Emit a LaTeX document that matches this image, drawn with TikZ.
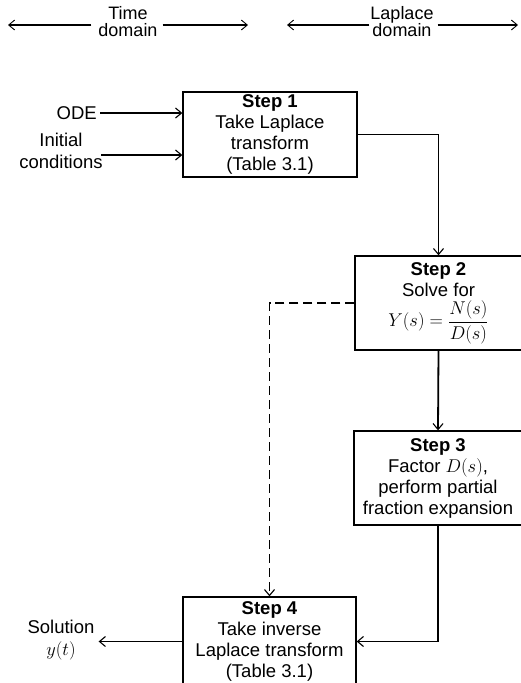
\RequirePackage{fix-cm}
\documentclass[tikz,border=0pt]{standalone}
\usepackage{amsmath}
\usepackage{fontspec}
\setmainfont{Liberation Sans}
\usetikzlibrary{arrows.meta,calc}
\begin{document}
\begin{tikzpicture}[x=1pt,y=-1pt,
  lbl/.style={font=\fontsize{18.5}{22}\selectfont, align=center, inner sep=0pt},
  toplbl/.style={font=\fontsize{18}{17}\selectfont, align=center, inner sep=0pt},
  stepbox/.style={draw, line width=1.3pt, font=\fontsize{18.5}{21}\selectfont, align=center, inner sep=0pt},
  conn/.style={line width=1.8pt, -{Straight Barb[length=6pt,width=10pt,line width=1.1pt]}},
  dom/.style={line width=1.1pt, -{Straight Barb[length=6pt,width=10pt,line width=0.9pt]}},
  dashconn/.style={line width=1.8pt, dash pattern=on 9pt off 5pt, -{Straight Barb[length=6pt,width=10pt,line width=1.1pt]}},
]
\useasboundingbox (0,0) rectangle (520,683);

% domain labels
\node[toplbl] (td) at (128,22) {Time\\domain};
\coordinate (tdL) at (8,25);
\coordinate (tdR) at (248,25);
\draw[dom, shorten <=7pt] (td.west |- tdL) -- (tdL);
\draw[dom, shorten <=5pt] (td.east |- tdR) -- (tdR);

\node[toplbl] (ld) at (402,22) {Laplace\\domain};
\coordinate (ldL) at (287,25);
\coordinate (ldR) at (518,25);
\draw[dom, shorten <=1pt] (ld.west |- ldL) -- (ldL);
\draw[dom, shorten <=4pt] (ld.east |- ldR) -- (ldR);

% steps
\node[stepbox, minimum width=174pt, minimum height=85pt] (s1) at (270,134.5)
  {\textbf{Step 1}\\Take Laplace\\transform\\(Table 3.1)};
\node[stepbox, minimum width=167pt, minimum height=94pt] (s2) at (438.5,303)
  {\textbf{Step 2}\\Solve for\\[3pt]$\displaystyle Y(s)=\frac{N(s)}{D(s)}$};
\node[stepbox, minimum width=168pt, minimum height=94pt] (s3) at (438,478)
  {\textbf{Step 3}\\Factor $D(s)$,\\perform partial\\fraction expansion};
\node[stepbox, minimum width=173pt, minimum height=89pt] (s4) at (269.5,641.5)
  {\textbf{Step 4}\\Take inverse\\Laplace transform\\(Table 3.1)};

% inputs
\node[lbl, anchor=east] (ode) at (97,113) {ODE};
\draw[conn, shorten <=3pt] (ode.east) -- (ode.east -| s1.west);
\node[lbl] (ic) at (61,151) {Initial\\conditions};
\coordinate (icout) at (101,155);
\draw[conn] (icout) -- (icout -| s1.west);

% output
\node[lbl] (sol) at (61,640) {Solution\\$y(t)$};
\draw[conn, shorten >=4pt] (s4.west) -- (sol.east |- s4.west);

% flow
\draw[conn] (s1.east) -| (s2.north);
\draw[conn] (s2.south) -- (s3.north);
\draw[conn] (s3.south) |- (s4.east);
\draw[dashconn] (s2.west) -| (s4.north);
\end{tikzpicture}
\end{document}
